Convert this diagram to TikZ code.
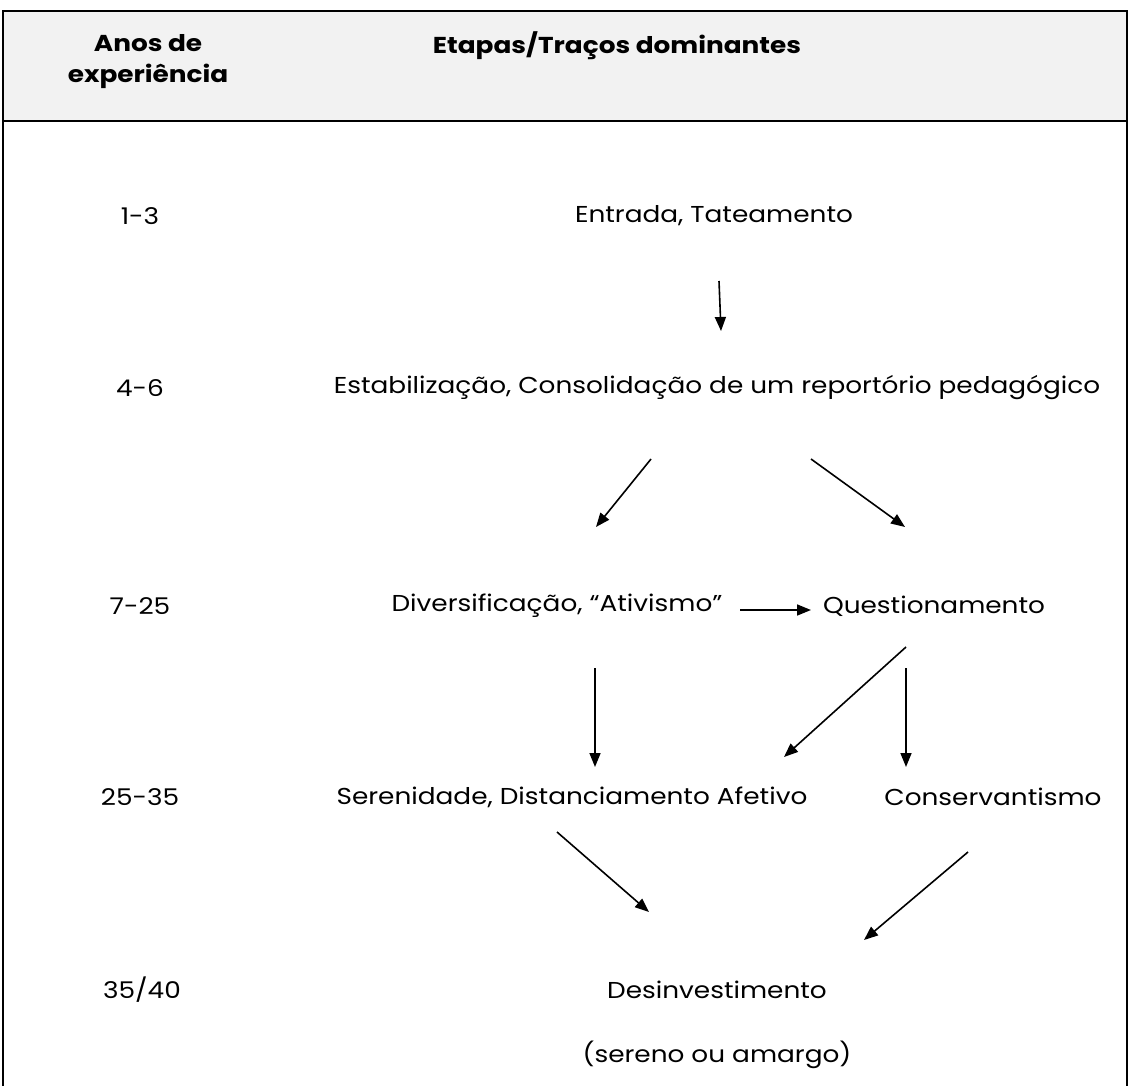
\documentclass[tikz,border=0pt]{standalone}
\usepackage{fontspec}
\setmainfont[FakeStretch=1.145]{Poppins}
\usetikzlibrary{arrows.meta}
\begin{document}
\begin{tikzpicture}[x=1pt,y=-1pt,
  txt/.style={inner sep=0pt,font=\fontsize{23}{28}\selectfont},
  hdr/.style={inner sep=0pt,font=\fontsize{23}{31}\selectfont\bfseries,align=center},
  arr/.style={line width=1.6pt,-{Triangle[length=14pt,width=11pt]}}]
\useasboundingbox (0,0) rectangle (1129,1086);
\fill[fill={rgb,255:red,242;green,242;blue,242}] (3,11) rectangle (1127,121);
\draw[line width=2pt] (3,1090) -- (3,11) -- (1127,11) -- (1127,1090);
\draw[line width=2.5pt] (3,121) -- (1127,121);
\node[hdr] (h1) at (148,62) {Anos de\\experiência};
\node[hdr] (h2) at (617,46) {Etapas/Traços dominantes};
\node[txt] (y1) at (140,216) {1-3};
\node[txt] (y2) at (140,388) {4-6};
\node[txt] (y3) at (140,606) {7-25};
\node[txt] (y4) at (140,797) {25-35};
\node[txt] (y5) at (142,990) {35/40};
\node[txt] (e1) at (714,216) {Entrada, Tateamento};
\node[txt] (e2) at (717,388) {Estabilização, Consolidação de um reportório pedagógico};
\node[txt] (d) at (557,606) {Diversificação, “Ativismo”};
\node[txt] (q) at (934,606) {Questionamento};
\node[txt] (s) at (572,797) {Serenidade, Distanciamento Afetivo};
\node[txt] (c) at (993,797) {Conservantismo};
\node[txt] (f) at (717,990) {Desinvestimento};
\node[txt] (f2) at (717,1055) {(sereno ou amargo)};
\coordinate (a1s) at (719,281); \coordinate (a1e) at (721,331);
\draw[arr] (a1s) -- (a1e);
\coordinate (a2s) at (651,459); \coordinate (a2e) at (596,527);
\draw[arr] (a2s) -- (a2e);
\coordinate (a3s) at (811,459); \coordinate (a3e) at (905,527);
\draw[arr] (a3s) -- (a3e);
\coordinate (a4s) at (740,610); \coordinate (a4e) at (811,610);
\draw[arr] (a4s) -- (a4e);
\coordinate (a5s) at (906,647); \coordinate (a5e) at (784,757);
\draw[arr] (a5s) -- (a5e);
\coordinate (a6s) at (906,668); \coordinate (a6e) at (906,767);
\draw[arr] (a6s) -- (a6e);
\coordinate (a7s) at (595,668); \coordinate (a7e) at (595,767);
\draw[arr] (a7s) -- (a7e);
\coordinate (a8s) at (557,832); \coordinate (a8e) at (649,912);
\draw[arr] (a8s) -- (a8e);
\coordinate (a9s) at (968,852); \coordinate (a9e) at (864,940);
\draw[arr] (a9s) -- (a9e);
\end{tikzpicture}
\end{document}
